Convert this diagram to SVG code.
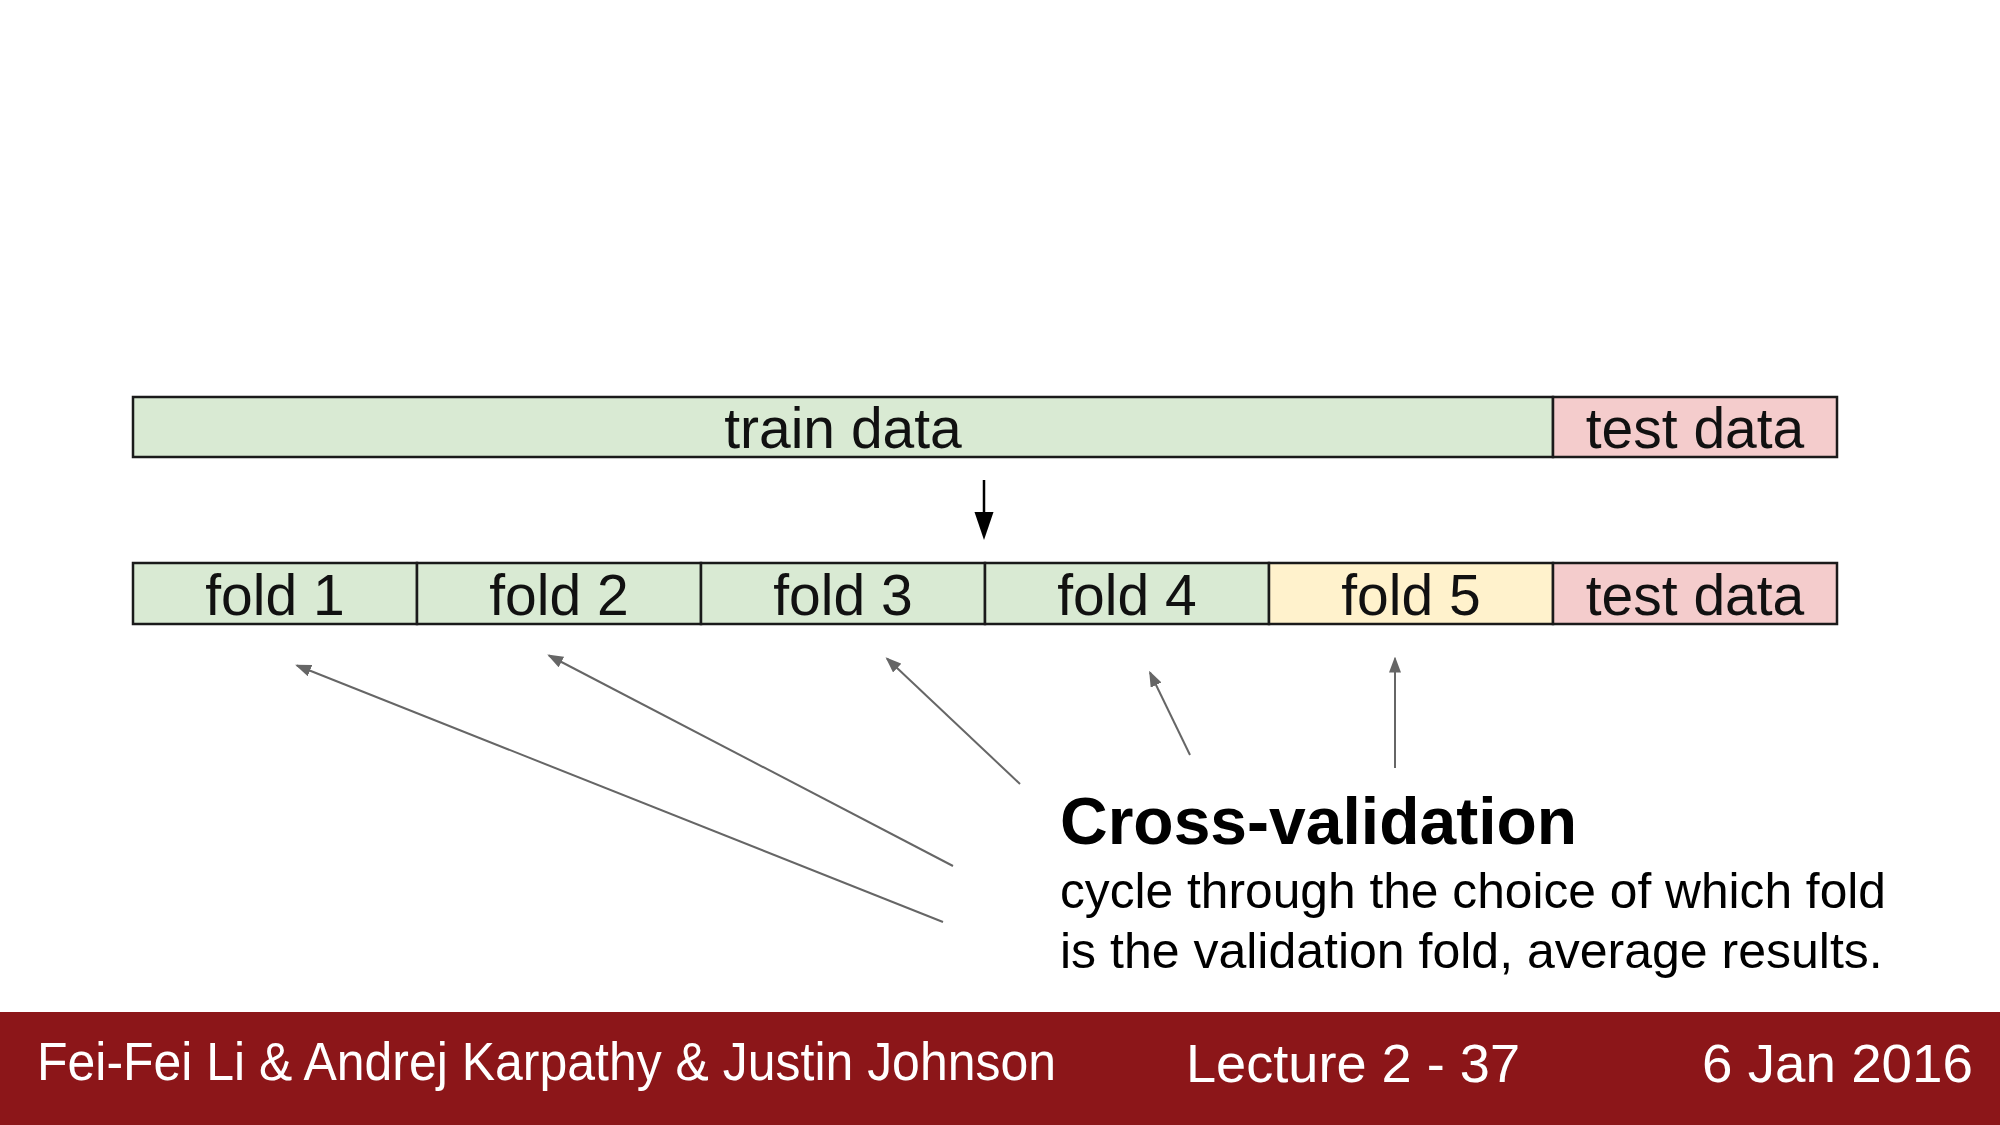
<svg xmlns="http://www.w3.org/2000/svg" width="2000" height="1125" viewBox="0 0 2000 1125">
<style>
.box{stroke:#1a1a1a;stroke-width:2.5}
.train{fill:#d9ead3}
.test{fill:#f4cccc}
.val{fill:#fff2cc}
.lbl{font-family:"Liberation Sans",Arial,sans-serif;font-size:57px;fill:#111;text-anchor:middle}
.ptr{stroke:#666;stroke-width:2;fill:none;marker-end:url(#gh)}
.foot{font-family:"Liberation Sans",Arial,sans-serif;font-size:53px;fill:#fff}
.body{font-family:"Liberation Sans",Arial,sans-serif;font-size:50px;fill:#000}
</style>
<defs>
<marker id="gh" markerWidth="8" markerHeight="6" refX="7" refY="3" orient="auto" markerUnits="strokeWidth">
<path d="M0,0 L8,3 L0,6 Z" fill="#666"/>
</marker>
</defs>
<rect width="2000" height="1125" fill="#fff"/>

<g id="train-data">
<rect class="box train" x="133" y="397" width="1420" height="60"/>
<text class="lbl" x="843" y="448">train data</text>
</g>
<g id="test-data-top">
<rect class="box test" x="1553" y="397" width="284" height="60"/>
<text class="lbl" x="1695" y="448">test data</text>
</g>

<g id="fold1">
<rect class="box train" x="133" y="563" width="284" height="61"/>
<text class="lbl" x="275" y="615">fold 1</text>
</g>
<g id="fold2">
<rect class="box train" x="417" y="563" width="284" height="61"/>
<text class="lbl" x="559" y="615">fold 2</text>
</g>
<g id="fold3">
<rect class="box train" x="701" y="563" width="284" height="61"/>
<text class="lbl" x="843" y="615">fold 3</text>
</g>
<g id="fold4">
<rect class="box train" x="985" y="563" width="284" height="61"/>
<text class="lbl" x="1127" y="615">fold 4</text>
</g>
<g id="fold5">
<rect class="box val" x="1269" y="563" width="284" height="61"/>
<text class="lbl" x="1411" y="615">fold 5</text>
</g>
<g id="test-data-bottom">
<rect class="box test" x="1553" y="563" width="284" height="61"/>
<text class="lbl" x="1695" y="615">test data</text>
</g>

<g id="connectors">
<line x1="984" y1="480" x2="984" y2="515" stroke="#000" stroke-width="2.5"/>
<path d="M974.5,512 L993.5,512 L984,540 Z" fill="#000"/>
<line class="ptr" x1="943" y1="922" x2="297" y2="665.5"/>
<line class="ptr" x1="953" y1="866" x2="549" y2="655.5"/>
<line class="ptr" x1="1020" y1="784" x2="887" y2="658.5"/>
<line class="ptr" x1="1190" y1="755" x2="1150" y2="672.5"/>
<line class="ptr" x1="1395" y1="768" x2="1395" y2="658.5"/>
</g>

<g id="caption">
<text x="1060" y="844" font-family="'Liberation Sans',Arial,sans-serif" font-size="66" font-weight="bold" fill="#000">Cross-validation</text>
<text class="body" x="1060" y="908" textLength="826" lengthAdjust="spacingAndGlyphs">cycle through the choice of which fold</text>
<text class="body" x="1060" y="968">is the validation fold, average results.</text>
</g>

<g id="footer">
<rect x="0" y="1012" width="2000" height="113" fill="#8c1619"/>
<text class="foot" x="37" y="1080" textLength="1019" lengthAdjust="spacingAndGlyphs">Fei-Fei Li &amp; Andrej Karpathy &amp; Justin Johnson</text>
<text class="foot" x="1186" y="1082" textLength="334" lengthAdjust="spacingAndGlyphs">Lecture 2 - 37</text>
<text class="foot" x="1702" y="1082" textLength="271" lengthAdjust="spacingAndGlyphs">6 Jan 2016</text>
</g>
</svg>
